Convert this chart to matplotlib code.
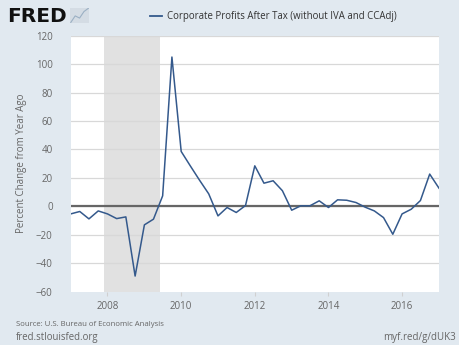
import matplotlib
matplotlib.use("Agg")
import matplotlib.pyplot as plt
import matplotlib.dates as mdates
import pandas as pd
import datetime as dt

plt.rcParams["font.family"] = ["Open Sans", "DejaVu Sans"]

# quarterly observations, percent change from year ago
quarters = pd.date_range("2007-01-01", "2017-01-01", freq="QS")
profits = [-5.3, -3.6, -8.8, -3.2, -5.3, -8.6, -7.4, -49.0, -13.0, -9.0, 7.4,
           105.0, 38.6, 28.5, 18.5, 8.8, -6.7, -0.8, -4.3, 0.6,
           28.5, 16.3, 18.0, 11.0, -2.7, 0.4, 0.4, 3.9,
           -0.8, 4.6, 4.3, 2.7, -0.6, -3.2, -7.9, -19.6,
           -5.3, -2.0, 4.1, 22.7, 12.8]
recession = (dt.datetime(2007, 12, 1), dt.datetime(2009, 6, 1))
yticks = [-60, -40, -20, 0, 20, 40, 60, 80, 100, 120]
xyears = [2008, 2010, 2012, 2014, 2016]
series_name = "Corporate Profits After Tax (without IVA and CCAdj)"

bg = "#E1E9F0"
text_col = "#666666"
line_col = "#34598C"

fig = plt.figure(figsize=(4.6, 3.45), dpi=100, facecolor=bg)
ax = fig.add_axes([0.1537, 0.1545, 0.8006, 0.742])
ax.set_facecolor("white")

ax.axvspan(recession[0], recession[1], color="#E1E1E1", lw=0, zorder=0)
for y in yticks[1:]:
    ax.axhline(y, color="#D8D8D8", lw=0.9, zorder=1)
ax.axhline(0, color="#666666", lw=1.6, zorder=2)
ax.plot(quarters, profits, color=line_col, lw=1.1, zorder=3)

ax.set_xlim(dt.datetime(2007, 1, 1), dt.datetime(2017, 1, 1))
ax.set_ylim(-60, 120)
ax.set_yticks(yticks)
ax.set_xticks([dt.datetime(y, 1, 1) for y in xyears])
ax.xaxis.set_major_formatter(mdates.DateFormatter("%Y"))
for s in ax.spines.values():
    s.set_visible(False)
ax.tick_params(axis="y", length=0, pad=13, labelsize=7, labelcolor=text_col)
ax.tick_params(axis="x", length=3, color="#D0D0D0", pad=4, labelsize=7, labelcolor=text_col)
ax.set_ylabel("Percent Change from Year Ago", fontsize=7, color=text_col, labelpad=6)

# legend line + label
fig.add_artist(plt.Line2D([0.326, 0.352], [0.953, 0.953], color=line_col, lw=1.3))
fig.text(0.362, 0.953, series_name, fontsize=6.9, color="#333333", va="center")

# FRED logo
fig.text(0.015, 0.953, "FRED", fontsize=14.5, fontweight="heavy", color="#111111",
         va="center", family="DejaVu Sans")
icon = fig.add_axes([0.152, 0.933, 0.042, 0.045])
icon.set_facecolor("#D4DCE4")
icon.plot([0, 1, 2, 3, 4], [0, 1.2, 0.8, 2.0, 2.6], color="#9BB0C4", lw=0.8)
icon.set_xticks([])
icon.set_yticks([])
for s in icon.spines.values():
    s.set_visible(False)

fig.text(0.035, 0.06, "Source: U.S. Bureau of Economic Analysis", fontsize=5.6, color=text_col, va="center")
fig.text(0.035, 0.021, "fred.stlouisfed.org", fontsize=6.9, color=text_col, va="center")
fig.text(0.99, 0.021, "myf.red/g/dUK3", fontsize=7.0, color=text_col, va="center", ha="right")

fig.savefig("out.png", dpi=100, facecolor=bg)
